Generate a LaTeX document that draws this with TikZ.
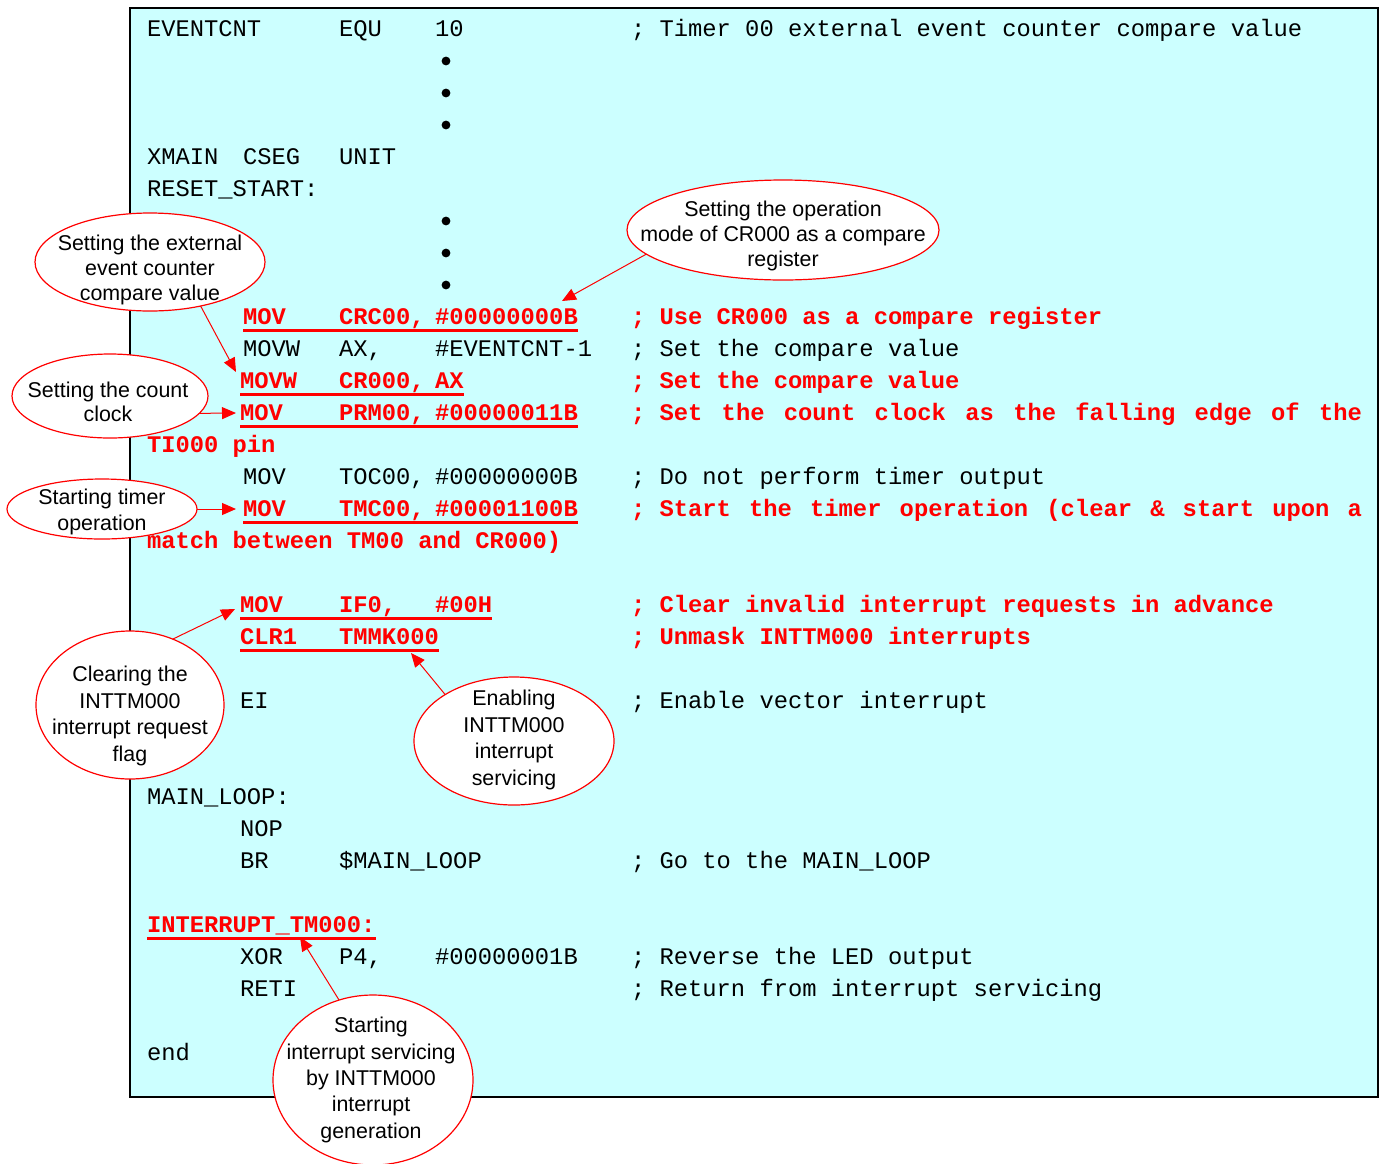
\documentclass[tikz,border=0pt]{standalone}
\usepackage{fontspec}
\setmainfont{Liberation Sans}
\setsansfont{Liberation Sans}
\setmonofont{Liberation Mono}
\usetikzlibrary{shapes.geometric,arrows.meta}
\definecolor{codebg}{HTML}{CCFFFF}
\definecolor{markred}{HTML}{FF0000}
\newcommand{\codefont}{\ttfamily\fontsize{11.9}{14}\selectfont}
\newcommand{\notefont}{\sffamily\fontsize{10.7}{12.3}\selectfont}
\newcommand{\spreadline}[1]{\makebox[365.5pt][l]{#1}}

\begin{document}
\begin{tikzpicture}[x=0.5pt, y=-0.5pt]
\tikzstyle{code}=[anchor=base west, inner sep=0pt, outer sep=0pt, font=\codefont]
\tikzstyle{hot}=[code, text=markred, font=\codefont\bfseries]
\tikzstyle{uline}=[draw=markred, line width=1.5pt]
\tikzstyle{bubble}=[ellipse, draw=markred, fill=white, line width=0.6pt, inner sep=0pt, outer sep=0pt]
\tikzstyle{note}=[align=center, inner sep=0pt, font=\notefont]
\tikzstyle{pointer}=[draw=markred, line width=0.5pt, -{Triangle[length=7pt,width=6pt]}]
\useasboundingbox (0,0) rectangle (1380,1163);
\draw[fill=codebg, line width=1pt] (130,8) rectangle (1378,1097);

\node[code] (L0op) at (147,36) {EVENTCNT};
\node[code] (L0a1) at (339,36) {EQU};
\node[code] (L0a2) at (435,36) {10};
\node[code] (L0rem) at (631,36) {; Timer 00 external event counter compare value};
\foreach \y in {61,93,125,221,253,285}
  \fill (446,\y) circle (2.2pt);
\node[code] (L4op) at (147,164) {XMAIN};
\node[code] (L4a1) at (243,164) {CSEG};
\node[code] (L4a2) at (339,164) {UNIT};
\node[code] (L5op) at (147,196) {RESET\_START:};

\node[hot] (L9op) at (243,324) {MOV};
\node[hot] (L9a1) at (339,324) {CRC00,};
\node[hot] (L9a2) at (435,324) {\#00000000B};
\node[hot] (L9rem) at (631,324) {; Use CR000 as a compare register};
\node[code] (L10op) at (243,356) {MOVW};
\node[code] (L10a1) at (339,356) {AX,};
\node[code] (L10a2) at (435,356) {\#EVENTCNT-1};
\node[code] (L10rem) at (631,356) {; Set the compare value};
\node[hot] (L11op) at (240,388) {MOVW};
\node[hot] (L11a1) at (339,388) {CR000,};
\node[hot] (L11a2) at (435,388) {AX};
\node[hot] (L11rem) at (631,388) {; Set the compare value};
\node[hot] (L12op) at (240,420) {MOV};
\node[hot] (L12a1) at (339,420) {PRM00,};
\node[hot] (L12a2) at (435,420) {\#00000011B};
\node[hot] (L12rem) at (631,420) {\spreadline{; Set \hfill the \hfill count \hfill clock \hfill as \hfill the \hfill falling \hfill edge \hfill of \hfill the}};
\node[hot] (L13op) at (147,452) {TI000 pin};
\node[code] (L14op) at (243,484) {MOV};
\node[code] (L14a1) at (339,484) {TOC00,};
\node[code] (L14a2) at (435,484) {\#00000000B};
\node[code] (L14rem) at (631,484) {; Do not perform timer output};
\node[hot] (L15op) at (243,516) {MOV};
\node[hot] (L15a1) at (339,516) {TMC00,};
\node[hot] (L15a2) at (435,516) {\#00001100B};
\node[hot] (L15rem) at (631,516) {\spreadline{; Start \hfill the \hfill timer \hfill operation \hfill (clear \hfill \& \hfill start \hfill upon \hfill a}};
\node[hot] (L16op) at (147,548) {match between TM00 and CR000)};

\node[hot] (L18op) at (240,612) {MOV};
\node[hot] (L18a1) at (339,612) {IF0,};
\node[hot] (L18a2) at (435,612) {\#00H};
\node[hot] (L18rem) at (631,612) {; Clear invalid interrupt requests in advance};
\node[hot] (L19op) at (240,644) {CLR1};
\node[hot] (L19a1) at (339,644) {TMMK000};
\node[hot] (L19rem) at (631,644) {; Unmask INTTM000 interrupts};
\node[code] (L21op) at (240,708) {EI};
\node[code] (L21rem) at (631,708) {; Enable vector interrupt};

\node[code] (L24op) at (147,804) {MAIN\_LOOP:};
\node[code] (L25op) at (240,836) {NOP};
\node[code] (L26op) at (240,868) {BR};
\node[code] (L26a1) at (339,868) {\$MAIN\_LOOP};
\node[code] (L26rem) at (631,868) {; Go to the MAIN\_LOOP};
\node[hot] (L28op) at (147,932) {INTERRUPT\_TM000:};
\node[code] (L29op) at (240,964) {XOR};
\node[code] (L29a1) at (339,964) {P4,};
\node[code] (L29a2) at (435,964) {\#00000001B};
\node[code] (L29rem) at (631,964) {; Reverse the LED output};
\node[code] (L30op) at (240,996) {RETI};
\node[code] (L30rem) at (631,996) {; Return from interrupt servicing};
\node[code] (L32op) at (147,1060) {end};

\draw[uline] ([yshift=-3pt]L9op.base west) -- ([yshift=-3pt]L9a2.base east);
\draw[uline] ([yshift=-3pt]L11op.base west) -- ([yshift=-3pt]L11a2.base east);
\draw[uline] ([yshift=-3pt]L12op.base west) -- ([yshift=-3pt]L12a2.base east);
\draw[uline] ([yshift=-3pt]L15op.base west) -- ([yshift=-3pt]L15a2.base east);
\draw[uline] ([yshift=-3pt]L18op.base west) -- ([yshift=-3pt]L18a2.base east);
\draw[uline] ([yshift=-3pt]L19op.base west) -- ([yshift=-3pt]L19a1.base east);
\draw[uline] ([yshift=-3pt]L28op.base west) -- ([yshift=-3pt]L28op.base east);

\node[bubble, minimum width=115pt, minimum height=49pt] (bExt) at (150,262) {};
\node[note] (nExt) at (150,270) {Setting the external\\event counter\\compare value};
\node[bubble, minimum width=156pt, minimum height=50pt] (bMode) at (783,230) {};
\node[note] (nMode) at (783,236) {Setting the operation\\mode of CR000 as a compare\\register};
\node[bubble, minimum width=98pt, minimum height=42pt] (bClk) at (110,396) {};
\node[note] (nClk) at (108,402) {Setting the count\\clock};
\node[bubble, minimum width=95pt, minimum height=30pt] (bRun) at (102,509) {};
\node[note, font=\sffamily\fontsize{10.7}{13}\selectfont] (nRun) at (102,512) {Starting timer\\operation};
\node[bubble, minimum width=94pt, minimum height=74pt] (bFlag) at (130,705) {};
\node[note, font=\sffamily\fontsize{10.7}{13.2}\selectfont] (nFlag) at (130,716) {Clearing the\\INTTM000\\interrupt request\\flag};
\node[bubble, minimum width=100pt, minimum height=64pt] (bMask) at (514,741) {};
\node[note, font=\sffamily\fontsize{10.7}{13.2}\selectfont] (nMask) at (514,740) {Enabling\\INTTM000\\interrupt\\servicing};
\node[bubble, minimum width=100pt, minimum height=85pt] (bIsr) at (373,1080) {};
\node[note, font=\sffamily\fontsize{10.7}{13.2}\selectfont] (nIsr) at (371,1080) {Starting\\interrupt servicing\\by INTTM000\\interrupt\\generation};

\coordinate (tExt) at (236,372);
\coordinate (tMode) at (562,301);
\coordinate (tClk) at (236,413);
\coordinate (tRun) at (236,509);
\coordinate (tFlag) at (235,609);
\coordinate (tMask) at (411,653);
\coordinate (tIsr) at (300,937);
\draw[pointer] (bExt.-41) -- (tExt);
\draw[pointer] (bMode.190) -- (tMode);
\draw[pointer] (bClk.-11) -- (tClk);
\draw[pointer] (bRun.east) -- (tRun);
\draw[pointer] (bFlag.57) -- (tFlag);
\draw[pointer] (bMask.146) -- (tMask);
\draw[pointer] (bIsr.113) -- (tIsr);
\end{tikzpicture}
\end{document}
